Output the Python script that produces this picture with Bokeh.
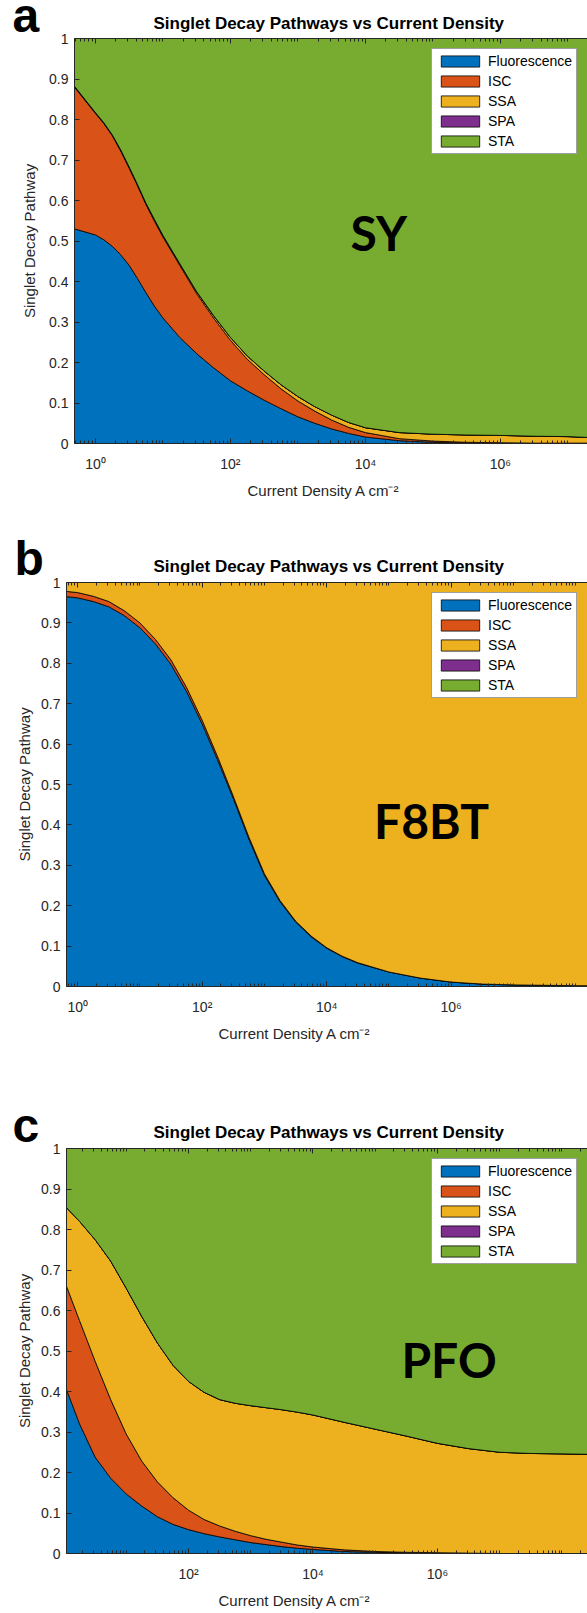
import numpy as np
from bokeh.plotting import figure
from bokeh.layouts import column
from bokeh.models import (Range1d, FixedTicker, LogAxis, Label, Legend, LegendItem, Title,
                          Plot)
from bokeh.embed import file_html
from bokeh.resources import INLINE

PATHWAYS = ["Fluorescence", "ISC", "SSA", "SPA", "STA"]
COLORS = ["#0072BD", "#D95319", "#EDB120", "#7E2F8E", "#77AC30"]

TITLE = "Singlet Decay Pathways vs Current Density"
X_LABEL = "Current Density A cm\u207b\u00b2"
Y_LABEL = "Singlet Decay Pathway"

X_TICKS = [1e0, 1e2, 1e4, 1e6]
X_TICK_LABELS = ["10\u2070", "10\u00b2", "10\u2074", "10\u2076"]
Y_TICKS = [0.0, 0.1, 0.2, 0.3, 0.4, 0.5, 0.6, 0.7, 0.8, 0.9, 1.0]
Y_TICK_LABELS = ["0", "0.1", "0.2", "0.3", "0.4", "0.5", "0.6", "0.7", "0.8", "0.9", "1"]

# --- SY: log10 of current density and the fraction of singlets per pathway ---
sy_log_j = [-0.31, 0.0, 0.125, 0.25, 0.375, 0.5, 0.625, 0.75, 0.875, 1.0, 1.25, 1.5, 1.75,
            2.0, 2.25, 2.5, 2.75, 3.0, 3.25, 3.5, 3.75, 4.0, 4.5, 5.0, 5.5, 6.0, 6.5,
            7.0, 7.29]
sy_fluorescence = [0.530, 0.515, 0.503, 0.487, 0.466, 0.440, 0.407, 0.372, 0.339, 0.310,
                   0.262, 0.222, 0.187, 0.155, 0.130, 0.107, 0.086, 0.066, 0.050, 0.036,
                   0.025, 0.016, 0.007, 0.003, 0.001, 0.000, 0.000, 0.000, 0.000]
sy_isc = [0.350, 0.300, 0.287, 0.273, 0.256, 0.240, 0.229, 0.218, 0.210, 0.200,
          0.178, 0.148, 0.123, 0.100, 0.078, 0.063, 0.049, 0.039, 0.030, 0.022,
          0.015, 0.011, 0.005, 0.003, 0.002, 0.002, 0.001, 0.001, 0.001]
sy_ssa = [0.002, 0.002, 0.002, 0.002, 0.003, 0.003, 0.003, 0.003, 0.004, 0.004,
          0.004, 0.005, 0.006, 0.007, 0.008, 0.009, 0.010, 0.011, 0.011, 0.012,
          0.012, 0.012, 0.015, 0.017, 0.018, 0.018, 0.017, 0.016, 0.014]
sy_spa = [0.0] * len(sy_log_j)

# --- F8BT ---
f8bt_log_j = [-0.18, 0.0, 0.25, 0.5, 0.75, 1.0, 1.25, 1.5, 1.75, 2.0, 2.25, 2.5, 2.75,
              3.0, 3.25, 3.5, 3.75, 4.0, 4.25, 4.5, 5.0, 5.5, 6.0, 6.5, 7.0, 7.5, 8.0, 8.19]
f8bt_fluorescence = [0.965, 0.962, 0.953, 0.940, 0.918, 0.888, 0.848, 0.797, 0.730, 0.650,
                     0.560, 0.465, 0.365, 0.275, 0.210, 0.160, 0.123, 0.095, 0.074, 0.058,
                     0.036, 0.021, 0.011, 0.006, 0.004, 0.003, 0.002, 0.002]
f8bt_isc = [0.013, 0.013, 0.013, 0.013, 0.012, 0.012, 0.011, 0.011, 0.010, 0.009,
            0.008, 0.006, 0.005, 0.004, 0.003, 0.002, 0.002, 0.001, 0.001, 0.001,
            0.0, 0.0, 0.0, 0.0, 0.0, 0.0, 0.0, 0.0]
f8bt_ssa = [0.022, 0.025, 0.034, 0.047, 0.070, 0.100, 0.141, 0.192, 0.260, 0.341,
            0.432, 0.529, 0.630, 0.721, 0.787, 0.838, 0.875, 0.904, 0.925, 0.941,
            0.964, 0.979, 0.989, 0.994, 0.996, 0.997, 0.998, 0.998]
f8bt_spa = [0.0] * len(f8bt_log_j)

# --- PFO ---
pfo_log_j = [0.04, 0.25, 0.5, 0.75, 1.0, 1.25, 1.5, 1.75, 2.0, 2.25, 2.5, 2.75, 3.0,
             3.25, 3.5, 3.75, 4.0, 4.5, 5.0, 5.5, 6.0, 6.5, 7.0, 7.5, 8.0, 8.41]
pfo_fluorescence = [0.405, 0.320, 0.238, 0.186, 0.147, 0.117, 0.091, 0.072, 0.059, 0.049,
                    0.041, 0.034, 0.027, 0.022, 0.017, 0.013, 0.010, 0.005, 0.003, 0.001,
                    0.0, 0.0, 0.0, 0.0, 0.0, 0.0]
pfo_isc = [0.255, 0.255, 0.237, 0.194, 0.148, 0.111, 0.086, 0.066, 0.048, 0.035,
           0.027, 0.021, 0.017, 0.013, 0.011, 0.008, 0.006, 0.004, 0.002, 0.002,
           0.002, 0.001, 0.0, 0.0, 0.0, 0.0]
pfo_ssa = [0.194, 0.245, 0.300, 0.342, 0.360, 0.357, 0.343, 0.327, 0.318, 0.314,
           0.312, 0.316, 0.321, 0.325, 0.327, 0.328, 0.326, 0.315, 0.302, 0.287,
           0.270, 0.258, 0.250, 0.247, 0.246, 0.245]
pfo_spa = [0.0] * len(pfo_log_j)

MINOR_TICKS = ([m * 10.0 ** k for k in range(-1, 9) for m in range(2, 10)]
               + [10.0 ** k for k in (-1, 1, 3, 5, 7, 8)])

AXIS_GREY = "#262626"
WIDTH = 587

# keep each figure's frame where it is placed instead of lining frames up in the column
NO_ALIGN = {"frame_align": False} if "frame_align" in Plot.properties() else {}


def style_axis(ax):
    ax.axis_line_color = AXIS_GREY
    ax.major_tick_line_color = AXIS_GREY
    ax.minor_tick_line_color = AXIS_GREY
    ax.major_tick_in = 5
    ax.major_tick_out = 0
    ax.minor_tick_in = 3
    ax.minor_tick_out = 0
    ax.major_label_text_font = "Liberation Sans"
    ax.major_label_text_font_size = "14px"
    ax.major_label_text_color = AXIS_GREY


def make_header(height, letter, letter_at, title_at):
    """Strip above a panel holding the panel letter and the chart title (pixel coords)."""
    h = figure(frame_width=WIDTH, frame_height=height, x_range=Range1d(0, WIDTH),
               y_range=Range1d(height, 0), output_backend="svg", toolbar_location=None,
               x_axis_location=None, y_axis_location=None, min_border=0, title=None,
               **NO_ALIGN)
    h.outline_line_color = None
    h.grid.visible = False
    h.add_layout(Label(x=letter_at[0], y=letter_at[1], text=letter, text_baseline="middle",
                       text_font="Liberation Sans", text_font_size="48px",
                       text_font_style="bold", text_color="black"))
    h.add_layout(Label(x=title_at[0], y=title_at[1], text=TITLE, text_baseline="middle",
                       text_font="Liberation Sans", text_font_size="17px",
                       text_font_style="bold", text_color="black"))
    return h


def make_panel(log_j, fractions, material, material_at, layout, legend_at, xlabel_offset):
    left, top, frame_h, bottom, ylab_standoff = layout
    j = 10.0 ** np.asarray(log_j, dtype=float)
    bands = [np.asarray(f, dtype=float) for f in fractions]
    bands.append(np.clip(1.0 - sum(bands), 0.0, None))  # STA takes the remainder

    p = figure(frame_width=WIDTH - left, frame_height=frame_h, x_axis_type="log",
               x_range=Range1d(j[0], j[-1]), y_range=Range1d(0, 1),
               output_backend="svg", toolbar_location=None, title=None,
               min_border_left=left, min_border_right=0,
               min_border_top=top, min_border_bottom=bottom, **NO_ALIGN)
    p.background_fill_color = "white"
    p.border_fill_color = "white"
    p.outline_line_color = None
    p.xgrid.visible = False
    p.ygrid.visible = False

    lower = np.zeros_like(j)
    items = []
    for name, color, band in zip(PATHWAYS, COLORS, bands):
        upper = lower + band
        r = p.patch(np.concatenate([j, j[::-1]]), np.concatenate([upper, lower[::-1]]),
                    fill_color=color, line_color="black", line_width=0.8)
        items.append(LegendItem(label=name, renderers=[r]))
        lower = upper

    xa = p.xaxis[0]
    style_axis(xa)
    xa.ticker = FixedTicker(ticks=X_TICKS, minor_ticks=MINOR_TICKS)
    xa.major_label_overrides = dict(zip(X_TICKS, X_TICK_LABELS))
    xa.major_label_standoff = 12

    ya = p.yaxis[0]
    style_axis(ya)
    ya.ticker = FixedTicker(ticks=Y_TICKS, minor_ticks=[])
    ya.major_label_overrides = dict(zip(Y_TICKS, Y_TICK_LABELS))
    ya.major_label_standoff = 6
    ya.axis_label = Y_LABEL
    ya.axis_label_text_font = "Liberation Sans"
    ya.axis_label_text_font_size = "15px"
    ya.axis_label_text_font_style = "normal"
    ya.axis_label_text_color = AXIS_GREY
    ya.axis_label_standoff = ylab_standoff

    # mirrored box axis along the top edge, ticks only
    top_axis = LogAxis(ticker=FixedTicker(ticks=X_TICKS, minor_ticks=MINOR_TICKS))
    style_axis(top_axis)
    top_axis.major_label_overrides = {t: " " for t in X_TICKS}
    top_axis.major_label_text_font_size = "1px"
    top_axis.major_label_text_color = None
    top_axis.major_label_standoff = 0
    p.add_layout(top_axis, "above")

    p.add_layout(Title(text=X_LABEL, align="left", offset=xlabel_offset, standoff=10,
                       text_font="Liberation Sans", text_font_size="15px",
                       text_font_style="normal", text_color=AXIS_GREY), "below")

    legend = Legend(items=items, location=legend_at, glyph_width=48, glyph_height=14,
                    label_height=14, label_standoff=4, spacing=4, padding=4, margin=0,
                    label_text_font="Liberation Sans", label_text_font_size="14px",
                    label_text_color="black", border_line_color="#404040",
                    border_line_width=1, background_fill_color="white",
                    background_fill_alpha=1.0)
    p.add_layout(legend)

    p.add_layout(Label(x=10.0 ** material_at[0], y=material_at[1], text=material,
                       text_baseline="middle", text_font="Lato", text_font_style="bold",
                       text_font_size="48px", text_color="black"))
    return p


ha = make_header(32, "a", (12, 15.3), (153, 22.6))
pa = make_panel(sy_log_j, [sy_fluorescence, sy_isc, sy_ssa, sy_spa], "SY",
                (3.78, 0.522), (74, 6, 405, 67, 8), (357, 289), 173)
hb = make_header(66, "b", (14, 48.3), (153, 56.1))
pb = make_panel(f8bt_log_j, [f8bt_fluorescence, f8bt_isc, f8bt_ssa, f8bt_spa], "F8BT",
                (4.76, 0.410), (66, 6, 404, 99, 5), (365, 288), 152)
hc = make_header(57, "c", (12, 40.3), (153, 47.1))
pc = make_panel(pfo_log_j, [pfo_fluorescence, pfo_isc, pfo_ssa, pfo_spa], "PFO",
                (5.42, 0.479), (66, 6, 405, 59, 5), (365, 289), 152)

layout = column(ha, pa, hb, pb, hc, pc, spacing=0)
open("out.html", "w").write(file_html(layout, INLINE))
